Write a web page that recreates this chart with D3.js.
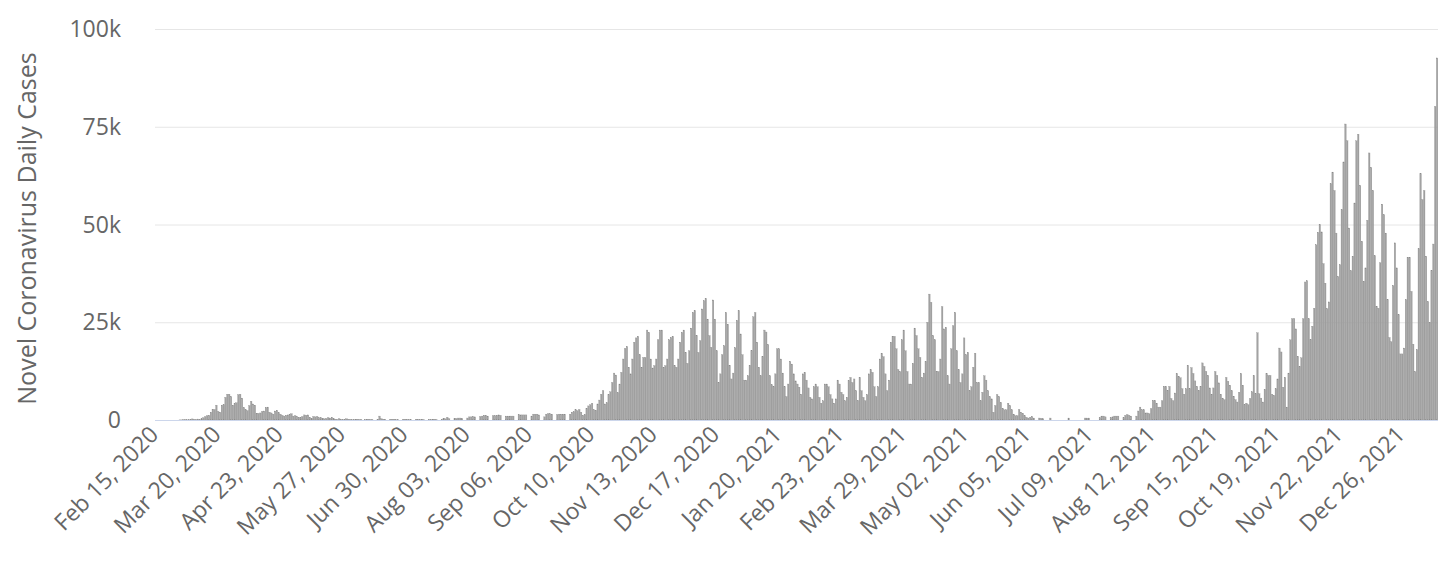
<!DOCTYPE html>
<html><head><meta charset="utf-8">
<script src="https://cdn.jsdelivr.net/npm/d3@7"></script>
<style>body{margin:0;background:#fff;font-family:"Open Sans","Noto Sans",sans-serif}</style>
</head><body><svg id="c" width="1456" height="562"></svg>
<script>
// daily new cases, thousands
const feb2020=[0,0,0,0,0,0,0,0,0,0,0,0,0,0.03,0.03];
const mar2020=[0.06,0.04,0.04,0.07,0.14,0.28,0.16,0.06,0.24,0.16,0.3,0.6,0.9,1.1,1.2,2.0,2.6,2.7,3.8,2.2,2.0,3.8,3.9,5.8,6.6,6.6,6.0,3.8,4.3,4.4,6.5];
const apr2020=[6.6,5.6,3.2,2.6,2.4,3.7,4.8,4.1,3.8,1.7,1.7,1.8,2.2,2.3,3.2,3.3,2.0,1.8,1.5,2.3,2.5,1.9,1.5,1.2,1.0,1.2,1.3,1.5,1.6,1.0];
const may2020=[1.1,0.9,0.7,0.7,0.9,1.3,1.2,1.3,0.7,0.4,0.9,0.8,0.9,0.6,0.6,0.3,0.3,0.4,0.6,0.5,0.7,0.3,0.2,0.1,0.3,0.2,0.1,0.2,0.3,0.2,0.1];
const jun2020=[0.1,0.1,0.2,0.2,0.1,0.1,0,0.1,0.1,0.2,0.1,0.1,0,0,0.2,1.0,0.3,0.2,0.2,0,0,0.2,0.2,0.2,0.1,0.1,0,0,0.2,0.2];
const jul2020=[0.2,0.1,0.1,0,0,0.2,0.2,0.1,0.1,0.1,0,0,0.2,0.1,0.2,0.2,0.1,0,0,0.2,0.3,0.3,0.7,0.3,0,0,0.3,0.4,0.5,0.5,0.4];
const aug2020=[0,0,0.5,0.8,0.8,0.9,0.8,0,0,0.9,1.0,1.2,1.2,1.0,0,0,1.1,1.1,1.2,1.3,1.2,0,0,1.0,1.0,1.0,1.0,1.0,0,0,1.4];
const sep2020=[1.3,1.3,1.3,1.3,0,0,1.0,1.5,1.5,1.5,1.3,0,0,0.8,1.5,1.6,1.6,1.5,0,0,1.4,1.5,1.5,1.5,1.5,0,0,1.5,2.0,2.1];
const oct2020=[2.6,2.4,2.7,2.0,1.2,1.4,3.0,3.6,3.9,4.3,2.6,2.5,4.1,5.1,6.6,7.5,4.1,4.4,6.5,7.2,9.6,12.0,11.5,7.0,9.2,12.2,15.6,18.3,18.8,13.5,11.8];
const nov2020=[15.6,19.9,21.0,21.4,16.7,13.5,16.0,16.0,23.0,22.4,15.6,13.3,13.9,15.6,20.5,23.0,23.0,13.5,13.9,15.6,20.5,21.1,21.4,13.9,13.5,15.6,19.9,22.4,23.0,17.3];
const dec2020=[14.5,17.7,23.5,27.5,28.0,21.6,17.3,20.3,28.4,30.5,31.1,25.8,21.6,18.6,30.7,25.8,17.7,9.6,11.8,16.7,19.0,27.5,24.5,14.0,10.5,12.0,18.5,25.5,28.0,22.0,16.7];
const jan2021=[10.2,10.2,11.3,14.0,17.7,26.4,27.5,19.9,13.5,11.3,16.2,23.0,22.5,19.3,11.3,9.0,8.5,11.8,18.2,18.2,15.6,12.0,8.5,6.0,9.2,15.0,14.3,11.8,10.0,9.2,8.4];
const feb2021=[6.6,11.8,12.2,10.2,8.2,5.8,5.4,8.5,9.2,8.5,5.8,4.3,4.9,9.2,9.2,8.5,6.5,5.4,4.3,5.4,10.2,9.2,7.1,6.5,4.9,5.8,10.1,10.9];
const mar2021=[9.6,10.5,7.5,5.0,10.9,7.5,5.8,4.9,6.5,11.8,12.9,12.2,8.5,6.0,8.5,15.6,17.1,16.2,11.8,7.5,10.2,19.9,21.4,21.4,18.2,12.9,12.4,20.5,23.0,17.7,12.4];
const apr2021=[9.2,9.2,14.5,23.5,21.6,18.2,16.0,10.9,12.0,15.0,25.0,32.2,30.1,21.6,20.5,12.4,12.4,15.6,29.0,23.3,23.7,11.3,9.2,18.2,24.1,27.5,17.7,12.9,9.6,11.8];
const may2021=[21.0,16.7,17.3,7.5,8.5,13.5,17.1,9.6,9.6,4.9,7.1,11.3,10.2,7.5,6.0,5.4,2.0,3.7,6.5,6.0,4.5,3.0,2.6,2.6,4.3,3.7,2.6,1.5,1.1,1.1,2.7];
const jun2021=[2.0,1.7,1.1,0.7,0.5,0.7,0.9,0.5,0,0,0.5,0.4,0.3,0,0,0,0.5,0,0,0,0,0,0,0,0,0,0.5,0,0,0];
const jul2021=[0,0,0,0,0,0.5,0.5,0.5,0,0,0,0,0,0.6,1.0,1.0,0.8,0,0,0.6,0.8,1.0,1.0,1.0,0,0,0.6,1.2,1.4,1.2,1.0];
const aug2021=[0,0,1.0,2.3,3.3,2.6,2.6,1.8,1.8,1.6,2.9,5.0,5.0,4.3,3.3,3.3,4.9,8.6,8.6,7.6,8.6,5.5,4.9,6.9,11.9,11.2,10.8,8.0,6.6,8.0,14.0];
const sep2021=[8.0,13.4,11.9,10.0,8.6,7.6,8.6,14.6,13.7,12.4,11.4,8.2,6.6,8.2,12.4,11.4,9.5,6.6,5.6,5.2,10.9,9.9,8.9,7.5,6.1,5.2,4.6,7.1,11.9,8.9];
const oct2021=[3.9,4.3,3.9,5.5,7.2,11.4,6.7,22.3,6.7,5.6,4.6,7.8,11.9,11.4,11.4,6.6,6.3,8.0,10.5,18.4,17.4,8.4,10.9,3.3,12.0,20.5,25.9,25.9,23.3,16.3,13.7];
const nov2021=[15.9,25.9,35.3,35.6,25.9,20.5,24.0,28.6,44.8,48.0,50.0,48.1,40.0,35.0,28.5,30.2,60.4,63.4,58.7,47.8,36.7,39.7,53.8,66.0,75.7,71.4,49.1,38.2,41.9,55.5];
const dec2021=[71.4,73.1,60.0,45.7,35.5,38.9,51.1,68.3,64.6,58.7,42.0,29.1,28.6,40.2,55.2,52.5,47.8,30.8,21.1,20.0,34.4,45.3,38.9,26.9,16.9,16.9,18.4,30.8,41.6,41.6,32.9];
const jan2022=[19.4,12.4,18.0,43.8,63.0,56.4,58.7,41.9,30.3,25.0,38.2,45.0,80.2,92.6];

const startDate=new Date(2020,1,15);
const yTicks=[0,25,50,75,100];
const yTickLabels=["0","25k","50k","75k","100k"];
const tickEvery=34;

const values=[].concat(feb2020,mar2020,apr2020,may2020,jun2020,jul2020,aug2020,sep2020,oct2020,nov2020,dec2020,
  jan2021,feb2021,mar2021,apr2021,may2021,jun2021,jul2021,aug2021,sep2021,oct2021,nov2021,dec2021,jan2022);
const fmt=d3.timeFormat("%b %d, %Y");
const dates=values.map((v,i)=>{const d=new Date(startDate);d.setDate(d.getDate()+i);return fmt(d);});

const svg=d3.select("#c");
const m={l:155,r:1438,t:29,b:420};
const x=d3.scaleBand().domain(dates).range([m.l,m.r]).paddingInner(0.2).paddingOuter(0.1);
const y=d3.scaleLinear().domain([0,100]).range([m.b,m.t]);

svg.append("g").selectAll("line").data(yTicks).join("line")
  .attr("x1",m.l).attr("x2",m.r).attr("y1",d=>y(d)+0.5).attr("y2",d=>y(d)+0.5)
  .attr("stroke","#e6e6e6").attr("stroke-width",1);
svg.append("g").selectAll("text").data(yTicks).join("text")
  .attr("x",121).attr("y",d=>y(d)+8).attr("text-anchor","end")
  .attr("fill","#666").style("font-size","23px").text((d,i)=>yTickLabels[i]);

svg.append("g").selectAll("rect").data(values).join("rect")
  .attr("x",(d,i)=>x(dates[i])).attr("width",x.bandwidth())
  .attr("y",d=>y(d)).attr("height",d=>m.b-y(d))
  .attr("fill","#a2a2a2").attr("stroke","#8a8a8a").attr("stroke-width",0.3);

svg.append("line").attr("x1",m.l).attr("x2",m.r).attr("y1",m.b+0.5).attr("y2",m.b+0.5)
  .attr("stroke","#ccd6eb").attr("stroke-width",1);

const tickIdx=d3.range(0,values.length,tickEvery);
svg.append("g").selectAll("text").data(tickIdx).join("text")
  .attr("transform",i=>`translate(${x(dates[i])+x.bandwidth()/2+4},${m.b+16}) rotate(-45)`)
  .attr("text-anchor","end").attr("fill","#666").style("font-size","23px")
  .text(i=>dates[i]);

svg.append("text").attr("transform",`translate(36,${(m.t+m.b)/2+4}) rotate(-90)`)
  .attr("text-anchor","middle").attr("fill","#666").style("font-size","25px")
  .text("Novel Coronavirus Daily Cases");
</script></body></html>
